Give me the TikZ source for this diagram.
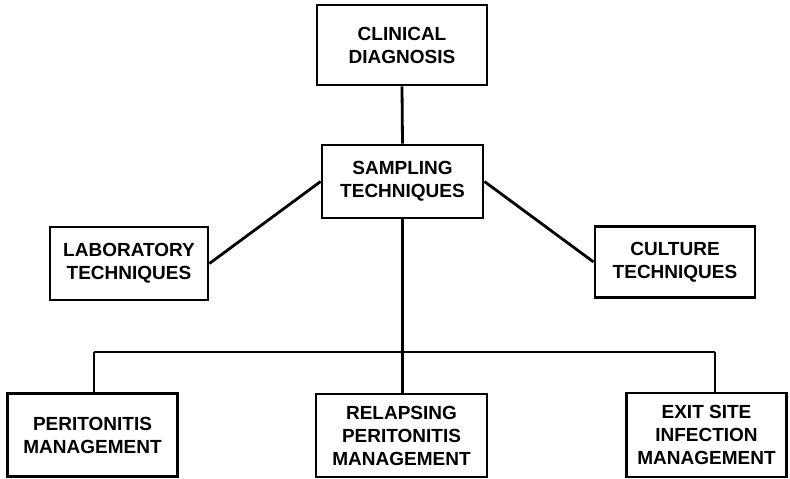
\documentclass[tikz,border=0pt]{standalone}
\usepackage{fontspec}
\setmainfont{Liberation Sans}
\begin{document}
\begin{tikzpicture}[x=1pt,y=-1pt,
  box/.style={draw=black, line width=2.8pt, align=center, inner sep=0pt,
    font=\fontsize{19}{23}\selectfont\bfseries},
  conn/.style={draw=black, line width=2.8pt}]
\useasboundingbox[fill=white] (0,0) rectangle (790,479);
\node[box, minimum width=170pt, minimum height=80pt] (clin) at (402,45) {CLINICAL\\DIAGNOSIS};
\node[box, minimum width=161pt, minimum height=73pt] (samp) at (402.5,181.5) {SAMPLING\\TECHNIQUES};
\node[box, minimum width=158pt, minimum height=73pt] (lab) at (129,263.5) {LABORATORY\\TECHNIQUES};
\node[box, minimum width=160pt, minimum height=71pt] (cult) at (675,262) {CULTURE\\TECHNIQUES};
\node[box, minimum width=170pt, minimum height=83pt] (peri) at (92.5,435) {PERITONITIS\\MANAGEMENT};
\node[box, minimum width=171pt, minimum height=83pt] (rel) at (401.5,435.5) {RELAPSING\\PERITONITIS\\MANAGEMENT};
\node[box, minimum width=160pt, minimum height=84pt] (exit) at (706.5,435) {EXIT SITE\\INFECTION\\MANAGEMENT};
\coordinate (jL) at (94,352);
\coordinate (jR) at (715,352);
\draw[conn] (clin.south) -- (samp.north);
\draw[conn] (lab.east) -- (samp.west);
\draw[conn] (samp.east) -- (cult.west);
\draw[conn] (samp.south) -- (rel.north -| samp.south);
\draw[conn] (jL) -- (jR);
\draw[conn] (jL) -- (jL |- peri.north);
\draw[conn] (jR) -- (jR |- exit.north);
\end{tikzpicture}
\end{document}
